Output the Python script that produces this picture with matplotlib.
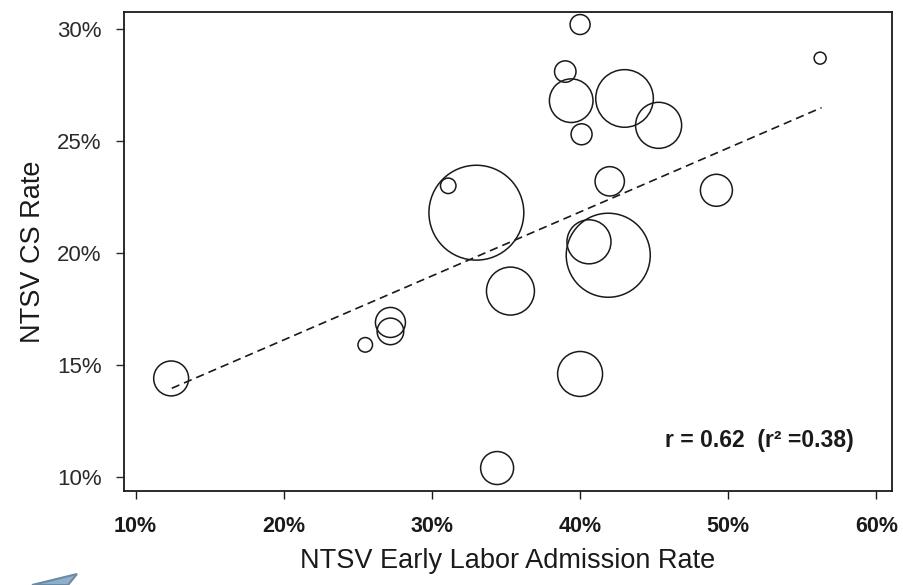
# NTSV CS rate vs early labor admission rate (bubble chart)

import matplotlib
matplotlib.use("Agg")
import matplotlib.pyplot as plt
from matplotlib.patches import Polygon
from matplotlib.ticker import FuncFormatter

plt.rcParams['font.family'] = ['Liberation Sans', 'DejaVu Sans']

# Data (percent)
early_admit = [40.0, 39.0, 39.4, 43.0, 45.3, 40.1, 31.1, 33.0, 42.0, 40.6,
               41.9, 35.3, 12.4, 25.5, 27.2, 27.2, 40.0, 34.4, 56.2, 49.2]
cs_rate = [30.2, 28.1, 26.8, 26.9, 25.7, 25.3, 23.0, 21.8, 23.2, 20.5,
           19.9, 18.3, 14.4, 15.9, 16.9, 16.5, 14.6, 10.4, 28.7, 22.8]
volume = [100, 115, 475, 830, 530, 110, 60, 2250, 215, 485,
          1765, 575, 305, 53, 225, 177, 505, 272, 36, 256]

# fitted line end points
fit_x = [12.44, 56.3]
fit_y = [13.96, 26.49]

x_ticks = [10, 20, 30, 40, 50, 60]
y_ticks = [10, 15, 20, 25, 30]

fig = plt.figure(figsize=(9.04, 5.85), dpi=100)
ax = fig.add_axes([0.1372, 0.1607, 0.8495, 0.8188])

sizes = [v * 1.44 ** 2 for v in volume]
ax.scatter(early_admit, cs_rate, s=sizes, facecolors='none',
           edgecolors='#1a1a1a', linewidths=1.1, zorder=3)

ax.plot(fit_x, fit_y, color='#1a1a1a', linewidth=1.2, dashes=(5, 3))

ax.set_xlim(9.22, 61.05)
ax.set_ylim(9.375, 30.76)
ax.set_xticks(x_ticks)
ax.set_yticks(y_ticks)
pct = FuncFormatter(lambda v, p: "%d%%" % v)
ax.xaxis.set_major_formatter(pct)
ax.yaxis.set_major_formatter(pct)

for lab in ax.get_xticklabels():
    lab.set_fontweight('bold')
ax.tick_params(axis='x', labelsize=15.5, length=6, width=1.0, pad=12,
               colors='#1a1a1a')
ax.tick_params(axis='y', labelsize=16, length=6, width=1.0, pad=10,
               colors='#2a2a2a')

for sp in ax.spines.values():
    sp.set_linewidth(1.3)
    sp.set_color('#1a1a1a')

ax.set_xlabel("NTSV Early Labor Admission Rate", fontsize=19.5, labelpad=8,
              color='#1a1a1a')
ax.set_ylabel("NTSV CS Rate", fontsize=19.5, labelpad=8, color='#1a1a1a')

ax.text(0.704, 0.106, "r = 0.62  (r\u00b2 =0.38)", transform=ax.transAxes,
        fontsize=16.5, fontweight='bold', ha='left', va='center',
        color='#1a1a1a')

# little blue-grey arrow shape in the bottom-left corner
arrow = Polygon([(32 / 904, 1 - 585 / 585), (77 / 904, 1 - 574 / 585),
                 (68 / 904, 1 - 585 / 585)], closed=True,
                transform=fig.transFigure, facecolor='#8fb0cc',
                edgecolor='#6c8aa3', linewidth=1.5)
fig.patches.append(arrow)

plt.savefig("out.png", dpi=100)
